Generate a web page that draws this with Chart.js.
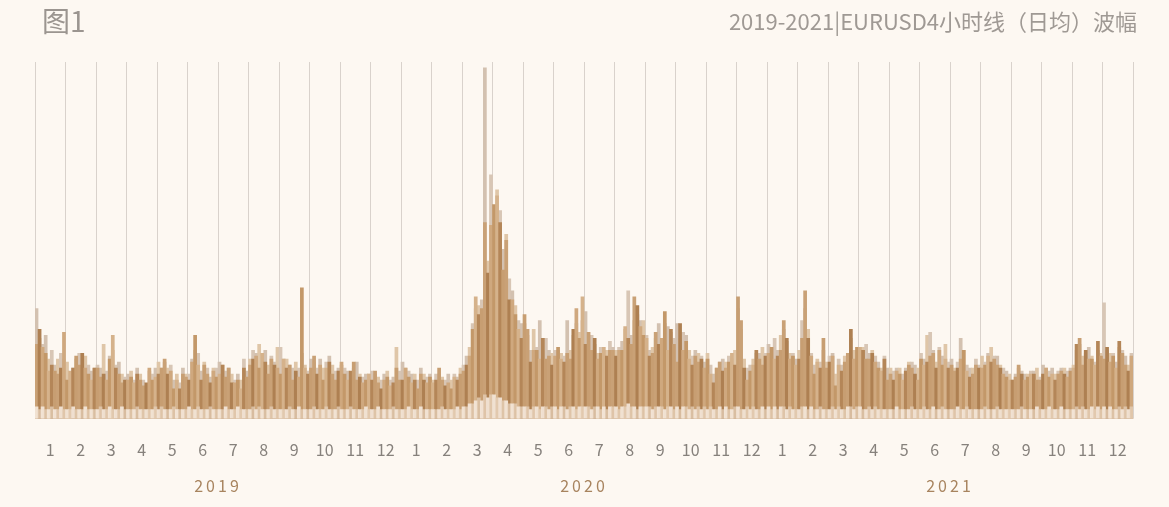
<!DOCTYPE html>
<html><head><meta charset="utf-8">
<script src="https://cdn.jsdelivr.net/npm/chart.js@4.4.0/dist/chart.umd.min.js"></script>
<style>
html,body{margin:0;padding:0;background:#fdf8f2;}
#wrap{position:relative;width:1169px;height:507px;background:#fdf8f2;overflow:hidden;font-family:"Noto Sans CJK SC","Noto Sans",sans-serif;}
#t1{position:absolute;left:42px;top:4px;font-size:28px;line-height:1.2;color:#9b9590;}
#t2{position:absolute;right:32px;top:7px;font-size:22px;line-height:1.2;color:#9f9994;}
canvas{position:absolute;left:0;top:0;}
</style></head><body>
<div id="wrap"><canvas id="c" width="1169" height="507"></canvas><div id="t1">图1</div><div id="t2">2019-2021|EURUSD4小时线（日均）波幅</div></div>
<script>
// month tick labels and year labels
const monthTicks = ['1','2','3','4','5','6','7','8','9','10','11','12','1','2','3','4','5','6','7','8','9','10','11','12','1','2','3','4','5','6','7','8','9','10','11','12'];
const yearTicks = ['2019','2020','2021'];

// body (mean 4h range, pips) - 10 samples per month
const body2019 = [
 25,30,24,22,16,18,16,15,17,29, 13,16,17,21,18,22,17,15,13,17, 17,14,15,13,20,28,17,15,12,13,
 13,14,12,15,13,11,12,17,13,14, 15,17,20,15,16,10,13,10,15,14, 13,19,28,18,13,18,15,12,16,14,
 15,18,14,17,12,12,13,10,17,14, 18,20,21,17,22,19,15,20,18,17, 15,20,17,18,13,16,14,44,17,15,
 17,21,15,18,13,17,19,15,13,16, 19,15,13,16,19,13,14,12,13,15, 13,16,12,10,13,14,11,12,17,13];
const body2020 = [
 13,17,14,12,13,10,15,13,12,14, 12,13,17,13,11,12,10,14,13,15, 16,18,21,30,41,35,37,66,49,65,
 72,75,66,50,60,40,40,35,30,27, 35,30,19,23,23,20,27,20,21,18, 21,24,20,19,22,20,30,37,27,41,
 25,29,23,27,20,22,24,21,23,23, 21,23,23,31,27,25,41,38,31,28, 27,21,22,29,25,27,36,23,30,25,
 19,32,23,26,20,18,21,19,20,17, 20,15,12,17,19,16,17,19,22,18, 41,33,17,13,16,18,23,20,18,21];
const body2021 = [
 22,24,20,21,23,33,27,20,21,18, 20,27,43,27,21,15,19,17,27,17, 19,21,11,18,16,19,22,30,20,24,
 24,23,20,20,22,19,17,16,20,13, 15,13,16,15,13,16,18,17,15,13, 20,18,19,21,22,17,23,18,20,17,
 18,16,17,20,23,16,14,15,18,17, 17,18,21,19,20,18,17,15,14,13, 13,14,18,15,13,14,15,15,13,13,
 15,17,14,15,13,15,16,15,14,16, 17,25,27,18,23,20,20,18,26,21, 20,24,19,21,17,26,22,18,16,21];

// high (max 4h range, pips)
const high2019 = [
 37,27,25,28,20,23,18,20,22,20, 19,15,17,20,22,20,21,18,16,17, 18,17,25,16,21,23,18,19,15,14,
 15,16,13,17,15,13,11,16,15,17, 19,17,19,17,18,13,15,12,17,15, 15,20,23,22,16,19,17,14,17,17,
 19,18,16,17,15,13,15,13,20,16, 20,23,22,25,21,23,18,21,19,24, 24,20,20,18,17,19,17,22,18,16,
 20,19,17,20,17,19,21,18,16,17, 18,17,16,15,17,19,15,14,15,15, 16,15,14,13,15,16,13,14,24,16];
const high2020 = [
 19,17,16,15,15,13,17,15,14,15, 13,15,15,14,13,15,13,15,14,17, 18,21,24,32,37,38,40,118,53,82,
 67,77,70,57,62,47,43,38,33,32, 32,28,23,30,24,33,25,27,23,22, 23,23,22,21,33,23,28,32,29,33,
 36,27,28,25,22,24,23,23,26,24, 23,24,26,30,43,28,33,35,33,33, 28,23,24,27,32,27,32,31,29,27,
 32,27,29,28,23,21,23,22,21,19, 22,18,15,17,19,20,19,21,20,23, 37,30,20,17,18,20,22,22,24,22];
const high2021 = [
 25,23,27,23,28,30,26,22,22,20, 23,33,37,30,22,18,20,19,23,19, 21,22,15,20,18,21,22,27,23,23,
 23,24,25,22,23,21,19,17,21,17, 17,16,17,17,15,17,19,19,18,17, 22,20,28,29,23,19,24,21,25,19,
 20,17,19,27,23,18,17,17,20,18, 21,19,22,24,21,21,18,17,16,15, 13,15,17,16,15,15,16,16,17,14,
 18,17,16,17,15,16,17,17,16,17, 18,23,25,21,22,24,21,19,23,22, 39,23,22,22,19,24,23,21,18,22];

// low (min 4h range, pips)
const low2019 = [
 4,3,4,3,3,4,3,3,4,3, 3,3,4,3,3,3,4,3,3,3, 3,4,3,3,4,3,3,3,4,3, 3,3,3,4,3,3,3,3,3,4,
 3,4,3,3,3,4,3,3,3,3, 4,3,3,4,3,3,3,4,3,3, 3,3,4,3,3,3,4,3,3,3, 3,4,3,4,3,3,3,4,3,3,
 3,3,3,4,3,3,4,3,3,3, 3,4,3,3,3,4,3,3,3,4, 3,3,3,4,3,3,3,3,4,3, 3,3,4,3,3,3,3,4,3,3];
const low2020 = [
 3,3,4,3,3,3,4,3,3,3, 3,3,3,4,3,3,3,3,4,3, 4,4,5,5,6,7,6,8,7,8, 8,7,7,6,6,5,5,5,4,4,
 4,4,3,4,4,3,4,4,3,4, 4,3,4,4,3,4,4,3,4,4, 4,4,3,4,4,3,4,3,4,4, 4,3,4,4,5,4,4,3,4,4,
 4,4,3,4,4,4,3,4,4,3, 4,3,4,4,3,4,3,4,3,4, 3,4,3,3,4,3,4,3,3,4, 4,3,3,4,3,4,3,3,4,3];
const low2021 = [
 4,3,4,3,4,4,3,4,3,3, 3,4,4,3,4,3,3,4,3,3, 3,4,3,4,3,3,4,4,3,4, 4,3,3,4,3,4,3,3,3,3,
 3,3,4,3,3,3,3,4,3,3, 3,4,3,3,4,3,3,4,3,3, 3,3,4,3,3,4,3,3,3,3, 3,4,3,3,3,4,3,3,3,3,
 3,3,3,4,3,3,3,3,4,3, 3,3,4,3,3,3,4,3,3,3, 3,4,3,4,3,3,4,3,4,3, 4,3,4,3,3,4,3,4,3,4];

const body = [...body2019, ...body2020, ...body2021];
const high = [...high2019, ...high2020, ...high2021];
const low  = [...low2019, ...low2020, ...low2021];
const dayLabels = body.map((_, i) => yearTicks[Math.floor(i / 120)] + '-' + (Math.floor((i % 120) / 10) + 1) + '-' + (i % 10 + 1));

const FONT = '"Noto Sans CJK SC","Noto Sans",sans-serif';
const bodyShades = ['#c9a176','#ae8052','#cfa87e','#c39869','#d5b28b','#b48658','#c79e72'];
const common = {grouped:false, barPercentage:1, categoryPercentage:1, borderWidth:0, xAxisID:'x', yAxisID:'y'};

const chart = new Chart(document.getElementById('c'), {
  type: 'bar',
  data: {
    labels: dayLabels,
    datasets: [
      Object.assign({label:'low', data: low, order:0,
        backgroundColor: c => (c.dataIndex % 2 === 0 ? 'rgba(244,231,218,0.92)' : 'rgba(230,208,186,0.75)')}, common),
      Object.assign({label:'body', data: body, order:1,
        backgroundColor: c => bodyShades[c.dataIndex % bodyShades.length]}, common),
      Object.assign({label:'high', data: high, order:2,
        backgroundColor: c => (c.dataIndex % 3 === 0 ? '#d3c1b0' : (c.dataIndex % 3 === 1 ? '#dfc6a8' : '#d8c6b5'))}, common)
    ]
  },
  options: {
    responsive:false, animation:false, devicePixelRatio:1,
    layout:{padding:{left:35, right:36, top:62, bottom:11}},
    plugins:{legend:{display:false}, tooltip:{enabled:false}, title:{display:false}},
    scales:{
      x:{display:false},
      xm:{type:'category', labels: monthTicks, position:'bottom', weight:1, offset:true, z:1,
        grid:{display:true, offset:true, color:'#d9d2cc', lineWidth:1, drawTicks:true, tickLength:22, tickColor:'rgba(0,0,0,0)'},
        border:{display:true, color:'#eadccd'},
        ticks:{color:'#86817c', font:{family:FONT, size:16}, padding:0, autoSkip:false, maxRotation:0}},
      yr:{type:'category', labels: yearTicks, position:'bottom', weight:2, offset:true,
        grid:{display:true, drawOnChartArea:false, color:'rgba(0,0,0,0)', drawTicks:true, tickLength:17, tickColor:'rgba(0,0,0,0)'},
        border:{display:false},
        ticks:{color:'#a8845f', font:{family:FONT, size:16}, padding:0, autoSkip:false, maxRotation:0}},
      y:{display:false, min:0, max:120}
    }
  }
});

const yrScale = chart.scales.yr;
const protoDrawLabels = Object.getPrototypeOf(yrScale).drawLabels;
yrScale.drawLabels = function(area){ this.ctx.save(); this.ctx.letterSpacing = '3px'; protoDrawLabels.call(this, area); this.ctx.restore(); };
chart.draw();
</script>
</body></html>
